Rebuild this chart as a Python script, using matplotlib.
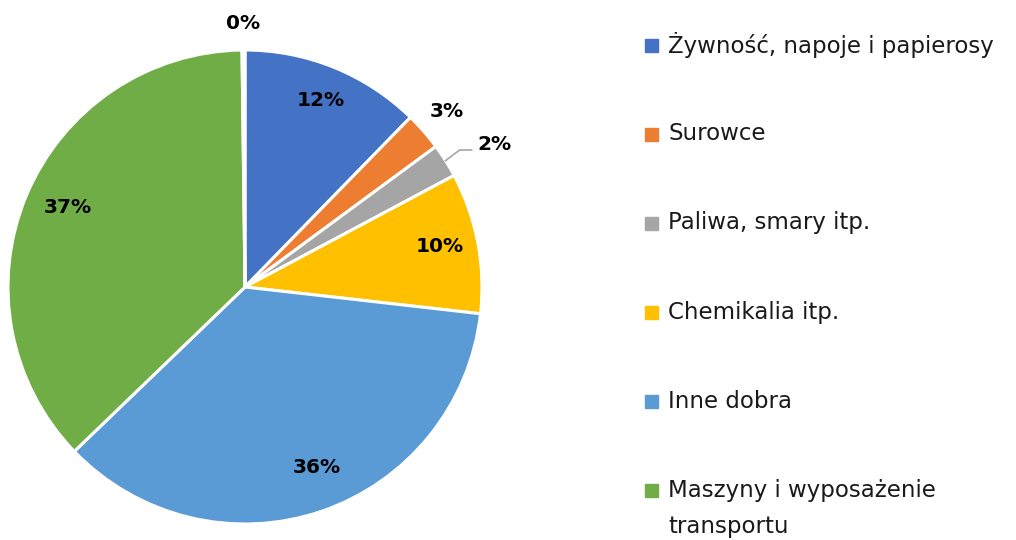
import numpy as np
import matplotlib.pyplot as plt
from matplotlib.patches import Rectangle

# udzialy w procentach
categories = ['Żywność, napoje i papierosy', 'Surowce', 'Paliwa, smary itp.',
              'Chemikalia itp.', 'Inne dobra', 'Maszyny i wyposażenie\ntransportu', 'Pozostałe']
values = [12.3, 2.6, 2.3, 9.6, 36.0, 37.0, 0.2]
pct_labels = ['12%', '3%', '2%', '10%', '36%', '37%', '0%']
colors = ['#4472C4', '#ED7D31', '#A5A5A5', '#FFC000', '#5B9BD5', '#70AD47', '#264478']
label_dist = [0.85, 1.13, 1.21, 0.84, 0.82, 0.82, 1.11]
label_shift = [0, 0, -2.5, 1, 3, -1.5, 0]   # przesuniecie kata etykiety (stopnie)

W, H = 1016, 540
plt.rcParams['font.family'] = ['DejaVu Sans']

fig = plt.figure(figsize=(W / 100, H / 100), dpi=100)
ax = fig.add_axes([8 / W, 16 / H, 474 / W, 474 / H])

wedges, _ = ax.pie(values, colors=colors, startangle=90, counterclock=False,
                   wedgeprops=dict(edgecolor='white', linewidth=2.2))
ax.set_xlim(-1, 1)
ax.set_ylim(-1, 1)
ax.set_aspect('equal')

for w, lab, d, s in zip(wedges, pct_labels, label_dist, label_shift):
    ang = np.deg2rad((w.theta1 + w.theta2) / 2 + s)
    ax.text(d * np.cos(ang), d * np.sin(ang), lab, ha='center', va='center',
            fontsize=14.5, fontweight='bold', color='black')

# linia odniesienia dla 2%
w = wedges[2]
ang = np.deg2rad((w.theta1 + w.theta2) / 2)
x0, y0 = 1.0 * np.cos(ang), 1.0 * np.sin(ang)
ax.plot([x0, x0 + 0.06, x0 + 0.11], [y0, y0 + 0.045, y0 + 0.045],
        color='#A6A6A6', lw=1.2, clip_on=False)

# legenda (tylko 6 pierwszych kategorii jest widoczne)
for i in range(6):
    yc = 45 + 89 * i
    fig.patches.append(Rectangle(((645) / W, 1 - (yc + 6.5) / H), 13 / W, 13 / H,
                                 transform=fig.transFigure, color=colors[i]))
    for k, line in enumerate(categories[i].split('\n')):
        fig.text(668 / W, 1 - (yc + 36 * k) / H, line, ha='left', va='center',
                 fontsize=16.5, color='#1a1a1a')

fig.savefig('out.png', dpi=100)
